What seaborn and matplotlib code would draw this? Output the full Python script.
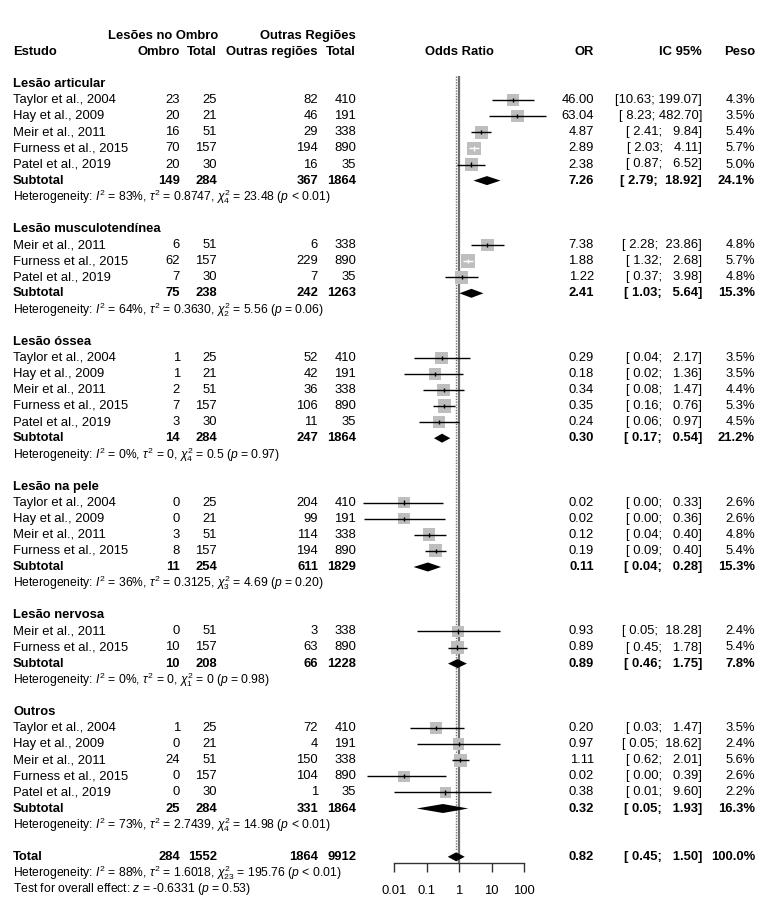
import numpy as np
import pandas as pd
import matplotlib
matplotlib.use("Agg")
import matplotlib.pyplot as plt
import seaborn as sns
from matplotlib.ticker import NullLocator, FixedLocator, FixedFormatter

# ---------------- data ----------------
group_names = ["Lesão articular", "Lesão musculotendínea", "Lesão óssea",
               "Lesão na pele", "Lesão nervosa", "Outros"]

study_group = [0, 0, 0, 0, 0,
               1, 1, 1,
               2, 2, 2, 2, 2,
               3, 3, 3, 3,
               4, 4,
               5, 5, 5, 5, 5]
study_names = ["Taylor et al., 2004", "Hay et al., 2009", "Meir et al., 2011", "Furness et al., 2015", "Patel et al., 2019",
               "Meir et al., 2011", "Furness et al., 2015", "Patel et al., 2019",
               "Taylor et al., 2004", "Hay et al., 2009", "Meir et al., 2011", "Furness et al., 2015", "Patel et al., 2019",
               "Taylor et al., 2004", "Hay et al., 2009", "Meir et al., 2011", "Furness et al., 2015",
               "Meir et al., 2011", "Furness et al., 2015",
               "Taylor et al., 2004", "Hay et al., 2009", "Meir et al., 2011", "Furness et al., 2015", "Patel et al., 2019"]
ombro_events = [23, 20, 16, 70, 20, 6, 62, 7, 1, 1, 2, 7, 3, 0, 0, 3, 8, 0, 10, 1, 0, 24, 0, 0]
ombro_total = [25, 21, 51, 157, 30, 51, 157, 30, 25, 21, 51, 157, 30, 25, 21, 51, 157, 51, 157, 25, 21, 51, 157, 30]
outras_events = [82, 46, 29, 194, 16, 6, 229, 7, 52, 42, 36, 106, 11, 204, 99, 114, 194, 3, 63, 72, 4, 150, 104, 1]
outras_total = [410, 191, 338, 890, 35, 338, 890, 35, 410, 191, 338, 890, 35, 410, 191, 338, 890, 338, 890, 410, 191, 338, 890, 35]
or_values = [46.00, 63.04, 4.87, 2.89, 2.38, 7.38, 1.88, 1.22, 0.29, 0.18, 0.34, 0.35, 0.24,
             0.02, 0.02, 0.12, 0.19, 0.93, 0.89, 0.20, 0.97, 1.11, 0.02, 0.38]
ci_lower = [10.63, 8.23, 2.41, 2.03, 0.87, 2.28, 1.32, 0.37, 0.04, 0.02, 0.08, 0.16, 0.06,
            0.0011, 0.0012, 0.04, 0.09, 0.05, 0.45, 0.03, 0.05, 0.62, 0.0015, 0.01]
ci_upper = [199.07, 482.70, 9.84, 4.11, 6.52, 23.86, 2.68, 3.98, 2.17, 1.36, 1.47, 0.76, 0.97,
            0.33, 0.36, 0.40, 0.40, 18.28, 1.78, 1.47, 18.62, 2.01, 0.39, 9.60]
weights = [4.3, 3.5, 5.4, 5.7, 5.0, 4.8, 5.7, 4.8, 3.5, 3.5, 4.4, 5.3, 4.5,
           2.6, 2.6, 4.8, 5.4, 2.4, 5.4, 3.5, 2.4, 5.6, 2.6, 2.2]

sub_ombro_events = [149, 75, 14, 11, 10, 25]
sub_ombro_total = [284, 238, 284, 254, 208, 284]
sub_outras_events = [367, 242, 247, 611, 66, 331]
sub_outras_total = [1864, 1263, 1864, 1829, 1228, 1864]
sub_or = [7.26, 2.41, 0.30, 0.11, 0.89, 0.32]
sub_lower = [2.79, 1.03, 0.17, 0.04, 0.46, 0.05]
sub_upper = [18.92, 5.64, 0.54, 0.28, 1.75, 1.93]
sub_weight = [24.1, 15.3, 21.2, 15.3, 7.8, 16.3]
het_i2 = ["83%", "64%", "0%", "36%", "0%", "73%"]
het_tau2 = ["0.8747", "0.3630", "0", "0.3125", "0", "2.7439"]
het_df = ["4", "2", "4", "3", "1", "4"]
het_chi2 = ["23.48", "5.56", "0.5", "4.69", "0", "14.98"]
het_p = ["< 0.01", "= 0.06", "= 0.97", "= 0.20", "= 0.98", "< 0.01"]

total_counts = [284, 1552, 1864, 9912]
total_or, total_lower, total_upper, total_weight = 0.82, 0.45, 1.50, 100.0
total_het = ["88%", "1.6018", "23", "195.76", "< 0.01"]
overall_z, overall_p = "-0.6331", "= 0.53"

xticks = [0.01, 0.1, 1, 10, 100]
xtick_labels = ["0.01", "0.1", "1", "10", "100"]

# ---------------- style ----------------
sns.set_theme(style="white")
plt.rcParams["font.family"] = ["Liberation Sans", "DejaVu Sans"]
plt.rcParams["mathtext.fontset"] = "custom"
plt.rcParams["mathtext.rm"] = "Liberation Sans"
plt.rcParams["mathtext.it"] = "Liberation Sans:italic"
plt.rcParams["mathtext.bf"] = "Liberation Sans:bold"
plt.rcParams["text.color"] = "black"
plt.rcParams["xtick.color"] = "black"
plt.rcParams["xtick.labelcolor"] = "black"

FS = 9.4
FS_SMALL = 8.7

W, H = 768, 923
fig = plt.figure(figsize=(W / 100, H / 100), dpi=100)
fig.patch.set_facecolor("white")
axt = fig.add_axes([0, 0, 1, 1])
axt.set_xlim(0, W)
axt.set_ylim(H, 0)
axt.axis("off")

left_px, right_px = 361.5, 556.5
axf = fig.add_axes([left_px / W, 0, (right_px - left_px) / W, 1])
axf.patch.set_visible(False)
axf.set_xscale("log")
axf.set_xlim(1e-3, 1e3)
axf.set_ylim(H, 0)

# row layout
Y0, STEP = 84.0, 16.1
def row_y(i):
    return Y0 + i * STEP

X_STUDY, X_OE, X_OT, X_RE, X_RT = 13, 180, 217, 318, 356
X_OR, X_CI, X_W = 594, 702, 755

def txt(x, y, s, ha="right", bold=False, size=FS):
    axt.text(x, y, s, ha=ha, va="center", fontsize=size,
             fontweight="bold" if bold else "normal", color="black")

def ci_str(lo, hi):
    return f"[{lo:5.2f}; {hi:6.2f}]"

# header
txt(X_OT + 1, 36, "Lesões no Ombro", bold=True)
txt(X_RT, 36, "Outras Regiões", bold=True)
txt(X_STUDY, 52, "Estudo", ha="left", bold=True)
txt(X_OE, 52, "Ombro", bold=True)
txt(X_OT, 52, "Total", bold=True)
txt(X_RE, 52, "Outras regiões", bold=True)
txt(X_RT, 52, "Total", bold=True)
axf.text(1, 52, "Odds Ratio", ha="center", va="center", fontsize=FS,
         fontweight="bold", color="black")
txt(X_OR, 52, "OR", bold=True)
txt(X_CI, 52, "IC 95%", bold=True)
txt(X_W, 52, "Peso", bold=True)

# build rows
study_df = pd.DataFrame({
    "group": study_group, "study": study_names,
    "oe": ombro_events, "ot": ombro_total, "re": outras_events, "rt": outras_total,
    "or": or_values, "lo": ci_lower, "hi": ci_upper, "w": weights,
})
study_rows = []
sub_rows = []
het_rows = []
head_rows = []
r = 0
for g, gname in enumerate(group_names):
    head_rows.append(r); r += 1
    for idx in study_df.index[study_df["group"] == g]:
        study_rows.append(r); r += 1
    sub_rows.append(r); r += 1
    het_rows.append(r); r += 1
    r += 1  # blank
total_row = r
study_df["y"] = [row_y(i) for i in study_rows]

def het_text(i2, tau2, df_, chi2, p):
    return (r"Heterogeneity: $I^2$ = " + i2 + r", $\tau^2$ = " + tau2 +
            r", $\chi^2_{" + df_ + r"}$ = " + chi2 + r" ($p$ " + p + ")")

for g, gname in enumerate(group_names):
    txt(X_STUDY, row_y(head_rows[g]), gname, ha="left", bold=True)
    ys = row_y(sub_rows[g])
    txt(X_STUDY, ys, "Subtotal", ha="left", bold=True)
    txt(X_OE, ys, str(sub_ombro_events[g]), bold=True)
    txt(X_OT, ys, str(sub_ombro_total[g]), bold=True)
    txt(X_RE, ys, str(sub_outras_events[g]), bold=True)
    txt(X_RT, ys, str(sub_outras_total[g]), bold=True)
    txt(X_OR, ys, f"{sub_or[g]:.2f}", bold=True)
    txt(X_CI, ys, ci_str(sub_lower[g], sub_upper[g]), bold=True)
    txt(X_W, ys, f"{sub_weight[g]:.1f}%", bold=True)
    txt(X_STUDY, row_y(het_rows[g]),
        het_text(het_i2[g], het_tau2[g], het_df[g], het_chi2[g], het_p[g]),
        ha="left", size=FS_SMALL)

for _, s in study_df.iterrows():
    y = s["y"]
    txt(X_STUDY, y, s["study"], ha="left")
    txt(X_OE, y, str(s["oe"]))
    txt(X_OT, y, str(s["ot"]))
    txt(X_RE, y, str(s["re"]))
    txt(X_RT, y, str(s["rt"]))
    txt(X_OR, y, f"{s['or']:.2f}")
    txt(X_CI, y, ci_str(s["lo"], s["hi"]))
    txt(X_W, y, f"{s['w']:.1f}%")

yt = row_y(total_row)
txt(X_STUDY, yt, "Total", ha="left", bold=True)
for x, v in zip([X_OE, X_OT, X_RE, X_RT], total_counts):
    txt(x, yt, str(v), bold=True)
txt(X_OR, yt, f"{total_or:.2f}", bold=True)
txt(X_CI, yt, ci_str(total_lower, total_upper), bold=True)
txt(X_W, yt, f"{total_weight:.1f}%", bold=True)
txt(X_STUDY, row_y(total_row + 1), het_text(*total_het), ha="left", size=FS_SMALL)
txt(X_STUDY, row_y(total_row + 2),
    r"Test for overall effect: $z$ = " + overall_z + r" ($p$ " + overall_p + ")",
    ha="left", size=FS_SMALL)

# ---------------- forest ----------------
y_top = 76
axis_y = 863
axf.vlines(1, y_top, axis_y, color="#6e6e6e", lw=1.6, zorder=1)
axf.vlines(total_or, y_top, yt - 6, color="#707070", lw=1.0, ls=(0, (1, 1)), zorder=1)

smin, smax = 66, 92
wmin, wmax = min(weights), max(weights)
study_df["s"] = smin + (study_df["w"] - wmin) / (wmax - wmin) * (smax - smin)
sns.scatterplot(data=study_df, x="or", y="y", size="w", sizes=(smin, smax),
                marker="s", color="#BEBEBE", edgecolor="none", linewidth=0,
                legend=False, ax=axf, zorder=2)

fig.canvas.draw()
p1 = axf.transData.transform((1, 0))[0]
p10 = axf.transData.transform((10, 0))[0]
px_dec = p10 - p1
half_px = np.sqrt(study_df["s"]) / 2 * 100 / 72
inside = ((np.log10(study_df["hi"] / study_df["or"]) * px_dec <= half_px) &
          (np.log10(study_df["or"] / study_df["lo"]) * px_dec <= half_px))
line_colors = np.where(inside, "white", "black")

axf.hlines(study_df["y"], study_df["lo"], study_df["hi"], colors=line_colors, lw=1.0, zorder=3)
axf.scatter(study_df["or"], study_df["y"], marker="|", s=10, c=line_colors, linewidths=1.0, zorder=4)

h = 4.5
diam_est = sub_or + [total_or]
diam_lo = sub_lower + [total_lower]
diam_hi = sub_upper + [total_upper]
diam_y = [row_y(i) for i in sub_rows] + [yt]
for est, lo, hi, y in zip(diam_est, diam_lo, diam_hi, diam_y):
    axf.fill([lo, est, hi, est], [y, y - h, y, y + h], color="black", lw=0, zorder=3)

# x axis
for side in ["top", "left", "right"]:
    axf.spines[side].set_visible(False)
axf.spines["bottom"].set_position(("data", axis_y))
axf.spines["bottom"].set_bounds(0.01, 100)
axf.spines["bottom"].set_color("#333333")
axf.spines["bottom"].set_linewidth(1.0)
axf.xaxis.set_major_locator(FixedLocator(xticks))
axf.xaxis.set_major_formatter(FixedFormatter(xtick_labels))
axf.xaxis.set_minor_locator(NullLocator())
axf.tick_params(axis="x", which="major", direction="out", length=6.5, width=1.0,
                color="#333333", labelcolor="black", labelsize=FS, pad=9, bottom=True)
axf.set_yticks([])
axf.set_xlabel("")
axf.set_ylabel("")

fig.savefig("out.png", dpi=100, facecolor="white")
